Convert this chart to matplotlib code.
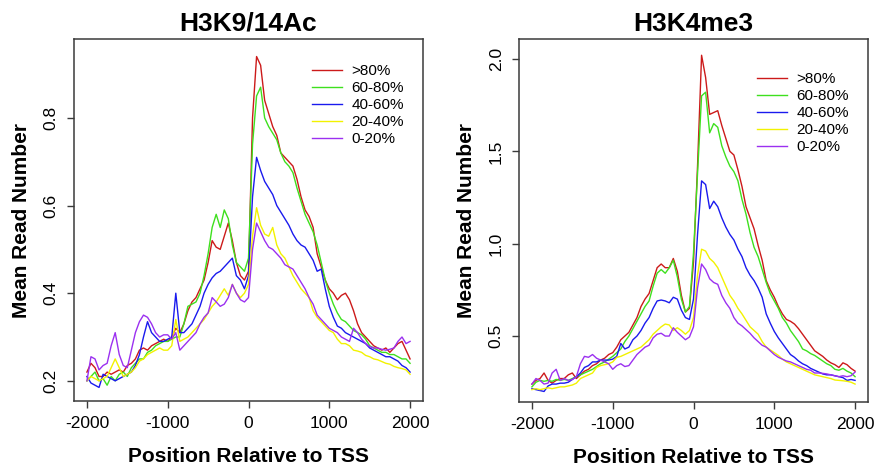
import numpy as np
import matplotlib
matplotlib.use("Agg")
import matplotlib.pyplot as plt

plt.rcParams['font.family'] = ['Liberation Sans', 'DejaVu Sans']
plt.rcParams['axes.unicode_minus'] = False

# positions relative to TSS (bp)
pos = np.arange(-2000, 2001, 50)

labels = ['>80%', '60-80%', '40-60%', '20-40%', '0-20%']
colors = ['#cc1a1a', '#3ee01e', '#1a1aee', '#f2f200', '#9b30f0']

# H3K9/14Ac mean read number per group
ac_80 = [0.22, 0.24, 0.23, 0.21, 0.21, 0.22, 0.215, 0.22, 0.225, 0.22,
         0.235, 0.24, 0.25, 0.27, 0.275, 0.27, 0.28, 0.285, 0.29, 0.295,
         0.29, 0.30, 0.32, 0.31, 0.33, 0.36, 0.38, 0.39, 0.41, 0.43,
         0.47, 0.52, 0.505, 0.50, 0.53, 0.56, 0.52, 0.47, 0.44, 0.43,
         0.45, 0.80, 0.94, 0.92, 0.84, 0.81, 0.78, 0.76, 0.72, 0.71,
         0.70, 0.69, 0.66, 0.62, 0.59, 0.575, 0.55, 0.49, 0.46, 0.43,
         0.41, 0.40, 0.385, 0.395, 0.40, 0.385, 0.36, 0.33, 0.31, 0.30,
         0.29, 0.28, 0.275, 0.27, 0.275, 0.265, 0.275, 0.285, 0.29, 0.27, 0.25]
ac_60 = [0.20, 0.21, 0.22, 0.20, 0.205, 0.19, 0.21, 0.20, 0.215, 0.22,
         0.21, 0.23, 0.24, 0.25, 0.25, 0.265, 0.27, 0.28, 0.285, 0.29,
         0.29, 0.295, 0.30, 0.30, 0.33, 0.37, 0.375, 0.38, 0.40, 0.44,
         0.49, 0.55, 0.58, 0.55, 0.59, 0.57, 0.51, 0.47, 0.46, 0.45,
         0.48, 0.74, 0.85, 0.87, 0.80, 0.78, 0.765, 0.75, 0.72, 0.70,
         0.69, 0.675, 0.64, 0.61, 0.58, 0.56, 0.54, 0.51, 0.47, 0.43,
         0.40, 0.375, 0.355, 0.34, 0.335, 0.325, 0.315, 0.31, 0.305, 0.295,
         0.28, 0.275, 0.27, 0.265, 0.265, 0.26, 0.26, 0.255, 0.25, 0.25, 0.24]
ac_40 = [0.21, 0.195, 0.19, 0.185, 0.215, 0.21, 0.205, 0.20, 0.205, 0.21,
         0.215, 0.22, 0.235, 0.26, 0.30, 0.335, 0.31, 0.30, 0.29, 0.29,
         0.295, 0.30, 0.40, 0.31, 0.31, 0.32, 0.33, 0.35, 0.37, 0.40,
         0.42, 0.435, 0.445, 0.45, 0.46, 0.47, 0.48, 0.44, 0.43, 0.41,
         0.44, 0.62, 0.71, 0.68, 0.655, 0.64, 0.625, 0.60, 0.585, 0.57,
         0.555, 0.535, 0.52, 0.51, 0.505, 0.49, 0.475, 0.45, 0.455, 0.41,
         0.37, 0.345, 0.325, 0.32, 0.31, 0.305, 0.30, 0.295, 0.29, 0.285,
         0.275, 0.27, 0.265, 0.26, 0.255, 0.255, 0.25, 0.245, 0.235, 0.23, 0.22]
ac_20 = [0.20, 0.21, 0.205, 0.20, 0.205, 0.21, 0.23, 0.25, 0.23, 0.21,
         0.215, 0.22, 0.23, 0.245, 0.25, 0.26, 0.265, 0.27, 0.275, 0.27,
         0.27, 0.28, 0.34, 0.29, 0.295, 0.30, 0.31, 0.32, 0.33, 0.34,
         0.355, 0.37, 0.38, 0.395, 0.41, 0.395, 0.42, 0.40, 0.39, 0.40,
         0.42, 0.53, 0.595, 0.555, 0.535, 0.53, 0.55, 0.51, 0.49, 0.48,
         0.46, 0.44, 0.425, 0.41, 0.40, 0.39, 0.36, 0.345, 0.335, 0.325,
         0.315, 0.31, 0.295, 0.285, 0.285, 0.28, 0.27, 0.268, 0.265, 0.258,
         0.255, 0.25, 0.248, 0.244, 0.24, 0.238, 0.233, 0.23, 0.228, 0.225, 0.215]
ac_0 = [0.20, 0.255, 0.25, 0.225, 0.235, 0.24, 0.28, 0.31, 0.26, 0.235,
        0.23, 0.27, 0.31, 0.335, 0.35, 0.345, 0.33, 0.31, 0.30, 0.305,
        0.305, 0.295, 0.31, 0.27, 0.28, 0.29, 0.30, 0.31, 0.33, 0.345,
        0.355, 0.39, 0.38, 0.37, 0.375, 0.39, 0.42, 0.40, 0.385, 0.38,
        0.39, 0.50, 0.56, 0.54, 0.52, 0.505, 0.50, 0.49, 0.48, 0.465,
        0.46, 0.455, 0.44, 0.425, 0.41, 0.39, 0.375, 0.35, 0.34, 0.33,
        0.32, 0.315, 0.31, 0.30, 0.295, 0.29, 0.32, 0.31, 0.295, 0.285,
        0.278, 0.275, 0.275, 0.272, 0.27, 0.272, 0.275, 0.29, 0.30, 0.285, 0.29]

# H3K4me3 mean read number per group
me_80 = [0.24, 0.26, 0.27, 0.30, 0.26, 0.245, 0.26, 0.27, 0.27, 0.29,
         0.30, 0.27, 0.29, 0.31, 0.32, 0.34, 0.35, 0.37, 0.38, 0.40,
         0.41, 0.44, 0.48, 0.50, 0.52, 0.56, 0.60, 0.66, 0.70, 0.73,
         0.80, 0.87, 0.89, 0.87, 0.87, 0.92, 0.85, 0.72, 0.63, 0.65,
         0.90, 1.42, 2.02, 1.90, 1.70, 1.71, 1.72, 1.64, 1.57, 1.50,
         1.48, 1.40, 1.31, 1.20, 1.14, 1.08, 0.99, 0.91, 0.80, 0.75,
         0.71, 0.66, 0.62, 0.59, 0.58, 0.565, 0.54, 0.51, 0.48, 0.45,
         0.42, 0.405, 0.39, 0.37, 0.355, 0.345, 0.33, 0.355, 0.345, 0.325, 0.31]
me_60 = [0.225, 0.25, 0.26, 0.255, 0.26, 0.255, 0.265, 0.26, 0.265, 0.26,
         0.27, 0.28, 0.29, 0.30, 0.31, 0.32, 0.335, 0.35, 0.36, 0.375,
         0.39, 0.41, 0.43, 0.47, 0.50, 0.54, 0.58, 0.62, 0.66, 0.69,
         0.77, 0.84, 0.86, 0.84, 0.87, 0.91, 0.82, 0.70, 0.63, 0.66,
         0.95, 1.38, 1.80, 1.82, 1.60, 1.65, 1.63, 1.53, 1.47, 1.42,
         1.39, 1.34, 1.24, 1.16, 1.06, 0.98, 0.93, 0.86, 0.79, 0.73,
         0.69, 0.65, 0.60, 0.57, 0.53, 0.50, 0.47, 0.43, 0.42, 0.405,
         0.395, 0.38, 0.365, 0.35, 0.34, 0.32, 0.315, 0.325, 0.31, 0.30, 0.28]
me_40 = [0.215, 0.21, 0.205, 0.20, 0.23, 0.24, 0.24, 0.245, 0.245, 0.25,
         0.265, 0.28, 0.30, 0.33, 0.34, 0.36, 0.36, 0.37, 0.37, 0.37,
         0.375, 0.39, 0.46, 0.43, 0.44, 0.48, 0.50, 0.53, 0.57, 0.60,
         0.65, 0.69, 0.695, 0.69, 0.68, 0.71, 0.70, 0.64, 0.60, 0.59,
         0.70, 1.05, 1.34, 1.32, 1.19, 1.23, 1.20, 1.14, 1.09, 1.05,
         1.02, 0.97, 0.93, 0.87, 0.83, 0.80, 0.76, 0.71, 0.62, 0.57,
         0.525, 0.49, 0.46, 0.43, 0.40, 0.385, 0.365, 0.35, 0.34, 0.325,
         0.315, 0.305, 0.295, 0.29, 0.29, 0.285, 0.28, 0.275, 0.26, 0.265, 0.26]
me_20 = [0.21, 0.215, 0.21, 0.215, 0.22, 0.215, 0.22, 0.225, 0.225, 0.23,
         0.235, 0.245, 0.27, 0.28, 0.29, 0.30, 0.33, 0.34, 0.345, 0.35,
         0.36, 0.385, 0.39, 0.40, 0.41, 0.42, 0.43, 0.44, 0.46, 0.48,
         0.51, 0.53, 0.55, 0.565, 0.56, 0.53, 0.545, 0.53, 0.51, 0.53,
         0.60, 0.83, 0.97, 0.96, 0.92, 0.90, 0.87, 0.82, 0.77, 0.72,
         0.69, 0.65, 0.62, 0.585, 0.55, 0.53, 0.51, 0.47, 0.44, 0.425,
         0.41, 0.395, 0.375, 0.36, 0.35, 0.34, 0.33, 0.32, 0.31, 0.30,
         0.29, 0.285, 0.28, 0.275, 0.27, 0.262, 0.26, 0.258, 0.255, 0.25, 0.24]
me_0 = [0.24, 0.27, 0.26, 0.24, 0.245, 0.30, 0.32, 0.26, 0.27, 0.26,
        0.265, 0.28, 0.35, 0.39, 0.385, 0.40, 0.38, 0.37, 0.36, 0.35,
        0.32, 0.34, 0.35, 0.335, 0.34, 0.37, 0.40, 0.42, 0.44, 0.45,
        0.49, 0.51, 0.515, 0.50, 0.50, 0.545, 0.52, 0.50, 0.48, 0.495,
        0.55, 0.76, 0.89, 0.86, 0.81, 0.79, 0.78, 0.72, 0.68, 0.65,
        0.60, 0.57, 0.555, 0.535, 0.515, 0.49, 0.47, 0.45, 0.44, 0.42,
        0.40, 0.385, 0.375, 0.365, 0.36, 0.35, 0.34, 0.33, 0.32, 0.315,
        0.30, 0.30, 0.298, 0.295, 0.29, 0.285, 0.28, 0.285, 0.28, 0.285, 0.305]

panels = [
    ('H3K9/14Ac', [ac_80, ac_60, ac_40, ac_20, ac_0],
     [0.2, 0.4, 0.6, 0.8], ['0.2', '0.4', '0.6', '0.8'], (0.154, 0.98),
     [74 / 877, 67 / 468, 349 / 877, 362 / 468], 0.931),
    ('H3K4me3', [me_80, me_60, me_40, me_20, me_0],
     [0.5, 1.0, 1.5, 2.0], ['0.5', '1.0', '1.5', '2.0'], (0.143, 2.108),
     [519 / 877, 66 / 468, 349 / 877, 363 / 468], 0.909),
]

fig = plt.figure(figsize=(8.77, 4.68), dpi=100)
frame_col = '#3a3a3a'

for title, series, yticks, ytlabels, ylim, rect, leg_y in panels:
    ax = fig.add_axes(rect)
    for vals, lab, col in zip(series, labels, colors):
        ax.plot(pos, vals, color=col, lw=1.0, label=lab)
    ax.set_xlim(-2160, 2160)
    ax.set_ylim(*ylim)
    ax.set_xticks([-2000, -1000, 0, 1000, 2000])
    ax.set_xticklabels(['-2000', '-1000', '0', '1000', '2000'])
    ax.set_yticks(yticks)
    ax.set_yticklabels(ytlabels, rotation=90, va='center')
    ax.tick_params(direction='out', length=5, width=1.0, color=frame_col,
                   labelsize=12.5, pad=6)
    for sp in ax.spines.values():
        sp.set_color(frame_col)
        sp.set_linewidth(1.1)
    ax.set_title(title, fontsize=19, fontweight='bold', pad=6)
    ax.set_xlabel('Position Relative to TSS', fontsize=15, fontweight='bold', va='center')
    ax.set_ylabel('Mean Read Number', fontsize=15, fontweight='bold', va='center')
    ax.xaxis.set_label_coords(0.5, -0.152)
    ax.yaxis.set_label_coords(-0.149, 0.5)
    ax.legend(loc='upper left', bbox_to_anchor=(0.682, leg_y), frameon=False,
              fontsize=11, handlelength=1.95, handletextpad=0.65,
              labelspacing=0.2, borderpad=0, borderaxespad=0)

fig.savefig('out.png', dpi=100)
